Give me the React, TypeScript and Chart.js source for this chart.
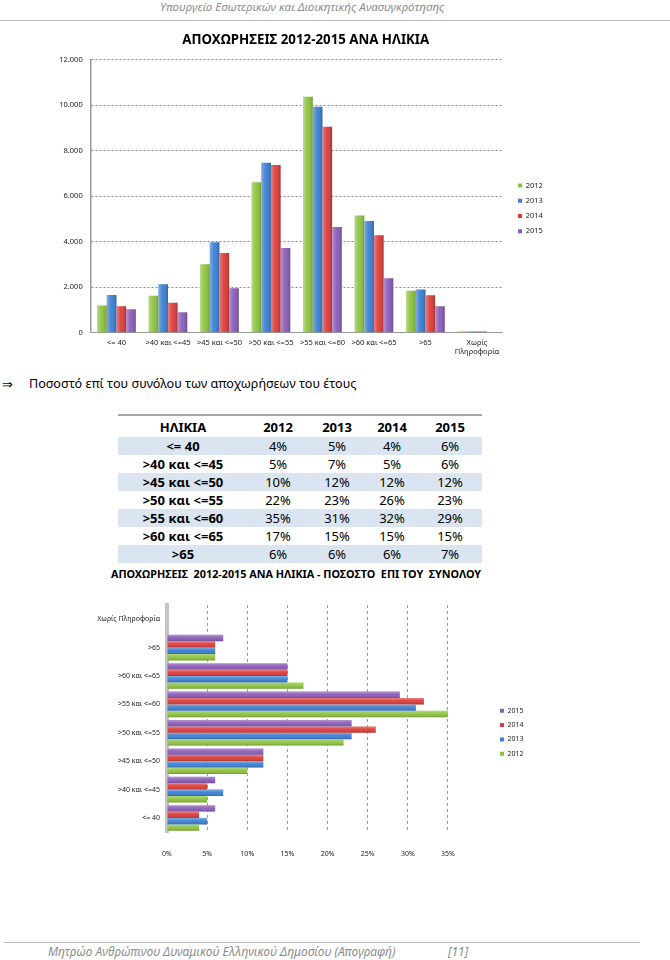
import React, { useEffect, useRef } from "react";
import { Chart, registerables } from "chart.js";

Chart.register(...registerables);

// ---------- data ----------
const years = ["2012", "2013", "2014", "2015"];
const ageLabels = [
  "<= 40",
  ">40 και <=45",
  ">45 και <=50",
  ">50 και <=55",
  ">55 και <=60",
  ">60 και <=65",
  ">65",
  "Χωρίς Πληροφορία",
];
const exits2012 = [1200, 1630, 3010, 6620, 10380, 5160, 1850, 50];
const exits2013 = [1660, 2130, 3980, 7470, 9940, 4910, 1900, 50];
const exits2014 = [1160, 1320, 3500, 7380, 9060, 4290, 1650, 50];
const exits2015 = [1030, 900, 1950, 3720, 4650, 2400, 1160, 25];
const countMax = 12000;
const countStep = 2000;

const tableAgeLabels = [
  "<= 40",
  ">40 και <=45",
  ">45 και <=50",
  ">50 και <=55",
  ">55 και <=60",
  ">60 και <=65",
  ">65",
];
const pct2012 = [4, 5, 10, 22, 35, 17, 6];
const pct2013 = [5, 7, 12, 23, 31, 15, 6];
const pct2014 = [4, 5, 12, 26, 32, 15, 6];
const pct2015 = [6, 6, 12, 23, 29, 15, 7];
const pctNoInfo = [0, 0, 0, 0]; // 2012..2015, "Χωρίς Πληροφορία"
const pctMax = 35;
const pctStep = 5;

const yearColors = ["#8dc33f", "#3b7fd2", "#db3c38", "#8a5cb8"];

const FONT = "'Noto Sans', 'DejaVu Sans', sans-serif";

const fmtThousands = (v: number) =>
  String(v).replace(/\B(?=(\d{3})+(?!\d))/g, ".");

// shading overlay giving the bars a rounded/3D look, using element geometry from Chart.js
const shadePlugin = {
  id: "shade",
  afterDatasetsDraw(chart: any) {
    const ctx = chart.ctx;
    const horizontal = chart.options.indexAxis === "y";
    chart.data.datasets.forEach((_ds: any, di: number) => {
      const meta = chart.getDatasetMeta(di);
      meta.data.forEach((bar: any) => {
        const p = bar.getProps(["x", "y", "base", "width", "height"], true);
        let left: number, top: number, w: number, h: number, g: CanvasGradient;
        if (!horizontal) {
          left = p.x - p.width / 2;
          w = p.width;
          top = Math.min(p.y, p.base);
          h = Math.abs(p.base - p.y);
          g = ctx.createLinearGradient(left, 0, left + w, 0);
        } else {
          top = p.y - p.height / 2;
          h = p.height;
          left = Math.min(p.x, p.base);
          w = Math.abs(p.x - p.base);
          g = ctx.createLinearGradient(0, top, 0, top + h);
        }
        if (!(w > 0) || !(h > 0)) return;
        g.addColorStop(0, "rgba(255,255,255,0.35)");
        g.addColorStop(0.45, "rgba(255,255,255,0.05)");
        g.addColorStop(1, "rgba(0,0,0,0.2)");
        ctx.save();
        ctx.fillStyle = g;
        ctx.fillRect(left, top, w, h);
        ctx.restore();
      });
    });
  },
};

export default function App() {
  const c1 = useRef<HTMLCanvasElement>(null);
  const c2 = useRef<HTMLCanvasElement>(null);

  useEffect(() => {
    const countSeries = [exits2012, exits2013, exits2014, exits2015];
    const chart1 = new Chart(c1.current as HTMLCanvasElement, {
      type: "bar",
      data: {
        labels: ageLabels.map((l) => (l.startsWith("Χωρίς") ? l.split(" ") : l)),
        datasets: years.map((y, i) => ({
          label: y,
          data: countSeries[i],
          backgroundColor: yearColors[i],
          categoryPercentage: 0.75,
          barPercentage: 1,
          yAxisID: "y",
        })),
      },
      options: {
        animation: false,
        responsive: false,
        layout: { padding: { left: 18.7, right: 7.1, top: 0, bottom: 3.3 } },
        plugins: {
          title: {
            display: true,
            text: "ΑΠΟΧΩΡΗΣΕΙΣ 2012-2015 ΑΝΑ ΗΛΙΚΙΑ",
            color: "#000",
            font: { family: FONT, size: 13.3, weight: "bold" },
            padding: { top: 6.6, bottom: 11.3 },
          },
          legend: {
            position: "right",
            fullSize: false,
            title: { display: true, text: " ", font: { family: FONT, size: 8 }, padding: 7.3 },
            labels: {
              boxWidth: 4,
              boxHeight: 4,
              padding: 7.7,
              color: "#222",
              font: { family: FONT, size: 7.5 },
            },
          },
          tooltip: { enabled: false },
        },
        scales: {
          x: {
            grid: { display: false, drawTicks: false },
            border: { color: "#999", width: 1 },
            ticks: {
              color: "#222",
              padding: 6,
              maxRotation: 0,
              autoSkip: false,
              font: { family: FONT, size: 7.5 },
            },
          },
          y: {
            min: 0,
            max: countMax,
            grid: { color: "#8a8a8a", drawTicks: false },
            border: { color: "#999", width: 1.5, dash: [2, 2] },
            ticks: {
              stepSize: countStep,
              padding: 8,
              color: "#222",
              font: { family: FONT, size: 7.5 },
              callback: (v: any) => fmtThousands(Number(v)),
            },
            afterFit: (s: any) => {
              s.width = 32;
            },
          },
          y2: {
            position: "right",
            grid: { display: false, drawTicks: false },
            border: { display: false },
            ticks: { display: false },
            afterFit: (s: any) => {
              s.width = 7.6;
            },
          },
        },
      } as any,
      plugins: [shadePlugin],
    });

    const pctByYear = [pct2012, pct2013, pct2014, pct2015];
    const hLabels = [...ageLabels].reverse();
    const hSeries = pctByYear.map((arr, i) => [pctNoInfo[i], ...[...arr].reverse()]);
    const order = [3, 2, 1, 0]; // 2015 on top of each group
    const chart2 = new Chart(c2.current as HTMLCanvasElement, {
      type: "bar",
      data: {
        labels: hLabels,
        datasets: order.map((i) => ({
          label: years[i],
          data: hSeries[i],
          backgroundColor: yearColors[i],
          categoryPercentage: 0.9,
          barPercentage: 1,
          yAxisID: "y",
        })),
      },
      options: {
        animation: false,
        responsive: false,
        indexAxis: "y",
        layout: { padding: { left: 0, right: 26.5, top: 17, bottom: 1.8 } },
        plugins: {
          legend: {
            position: "right",
            fullSize: false,
            title: { display: true, text: " ", font: { family: FONT, size: 7 }, padding: 9.45 },
            labels: {
              boxWidth: 4,
              boxHeight: 4,
              padding: 7.3,
              color: "#222",
              font: { family: FONT, size: 7 },
            },
          },
          tooltip: { enabled: false },
        },
        scales: {
          x: {
            min: 0,
            max: pctMax,
            grid: { color: "#9a9a9a", drawTicks: false },
            border: { display: false, dash: [3, 3] },
            ticks: {
              stepSize: pctStep,
              padding: 17.8,
              color: "#222",
              font: { family: FONT, size: 7 },
              callback: (v: any) => `${v}%`,
            },
          },
          y: {
            grid: { display: false, drawTicks: false },
            border: { color: "#c4c4c4", width: 4 },
            ticks: {
              padding: 7,
              color: "#222",
              autoSkip: false,
              font: { family: FONT, size: 7 },
            },
            afterFit: (s: any) => {
              s.width = 72;
            },
          },
          y2: {
            position: "right",
            grid: { display: false, drawTicks: false },
            border: { display: false },
            ticks: { display: false },
            afterFit: (s: any) => {
              s.width = 44.7;
            },
          },
        },
      } as any,
      plugins: [shadePlugin],
    });

    return () => {
      chart1.destroy();
      chart2.destroy();
    };
  }, []);

  const grey = "#8c8c8c";
  const pctRows = tableAgeLabels.map((label, r) => [label, pct2012[r], pct2013[r], pct2014[r], pct2015[r]]);
  const colW = [130, 60, 58, 52, 64];

  return (
    <div
      style={{
        position: "absolute",
        left: 0,
        top: 0,
        width: 670,
        height: 960,
        background: "#fff",
        fontFamily: FONT,
        color: "#000",
        overflow: "hidden",
      }}
    >
      {/* header */}
      <div
        style={{
          position: "absolute",
          left: 160,
          top: 0,
          fontSize: 11.6,
          lineHeight: "14px",
          fontStyle: "italic",
          color: grey,
          whiteSpace: "nowrap",
        }}
      >
        Υπουργείο Εσωτερικών και Διοικητικής Ανασυγκρότησης
      </div>
      <div style={{ position: "absolute", left: 0, top: 20, width: 670, height: 1, background: "#bdbdbd" }} />

      <canvas
        ref={c1}
        width={520}
        height={340}
        style={{ position: "absolute", left: 40, top: 26, width: 520, height: 340 }}
      />

      {/* bullet line */}
      <div style={{ position: "absolute", left: 2, top: 376, fontSize: 13, lineHeight: "16px", whiteSpace: "nowrap" }}>
        ⇒
      </div>
      <div style={{ position: "absolute", left: 29, top: 376, fontSize: 12.6, lineHeight: "16px", whiteSpace: "nowrap" }}>
        Ποσοστό επί του συνόλου των αποχωρήσεων του έτους
      </div>

      {/* table */}
      <div
        style={{
          position: "absolute",
          left: 118,
          top: 414,
          width: 364,
          borderTop: "2px solid #a6a6a6",
          fontSize: 13,
        }}
      >
        <div style={{ display: "flex", height: 21, alignItems: "center", fontWeight: "bold" }}>
          {["ΗΛΙΚΙΑ", ...years].map((h, i) => (
            <div key={h} style={{ width: colW[i], textAlign: "center" }}>
              {h}
            </div>
          ))}
        </div>
        {pctRows.map((row, r) => (
          <div
            key={r}
            style={{
              display: "flex",
              height: 18,
              alignItems: "center",
              background: r % 2 === 0 ? "#dbe5f1" : "#fff",
            }}
          >
            {row.map((cell, i) => (
              <div
                key={i}
                style={{ width: colW[i], textAlign: "center", fontWeight: i === 0 ? "bold" : "normal" }}
              >
                {i === 0 ? cell : `${cell}%`}
              </div>
            ))}
          </div>
        ))}
      </div>
      <div
        style={{
          position: "absolute",
          left: 96,
          top: 567,
          width: 400,
          textAlign: "center",
          fontSize: 10.8,
          lineHeight: "14px",
          fontWeight: "bold",
          whiteSpace: "pre",
        }}
      >
        {"ΑΠΟΧΩΡΗΣΕΙΣ  2012-2015 ΑΝΑ ΗΛΙΚΙΑ - ΠΟΣΟΣΤΟ  ΕΠΙ ΤΟΥ  ΣΥΝΟΛΟΥ"}
      </div>

      <canvas
        ref={c2}
        width={465}
        height={290}
        style={{ position: "absolute", left: 95, top: 588, width: 465, height: 290 }}
      />

      {/* footer */}
      <div style={{ position: "absolute", left: 4, top: 942, width: 636, height: 1, background: "#bdbdbd" }} />
      <div
        style={{
          position: "absolute",
          left: 48,
          top: 945,
          fontSize: 12,
          lineHeight: "14px",
          fontStyle: "italic",
          color: grey,
          whiteSpace: "nowrap",
        }}
      >
        Μητρώο Ανθρώπινου Δυναμικού Ελληνικού Δημοσίου (Απογραφή)
      </div>
      <div
        style={{
          position: "absolute",
          left: 448,
          top: 945,
          fontSize: 12,
          lineHeight: "14px",
          fontStyle: "italic",
          color: grey,
        }}
      >
        [11]
      </div>
    </div>
  );
}
